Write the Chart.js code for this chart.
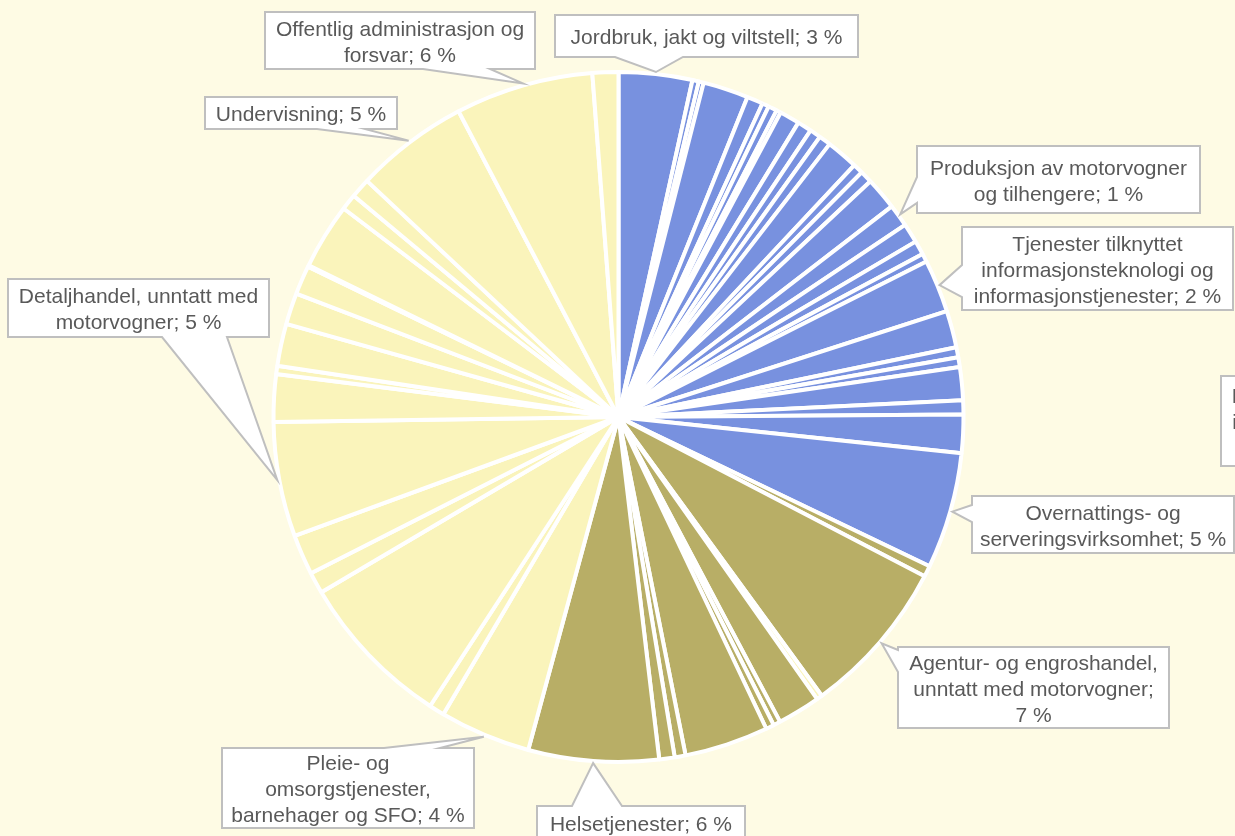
<!DOCTYPE html>
<html>
<head>
<meta charset="utf-8">
<script src="https://cdn.jsdelivr.net/npm/chart.js@4.4.1/dist/chart.umd.min.js"></script>
<style>
html,body{margin:0;padding:0;background:#FEFBE4;overflow:hidden;}
canvas{display:block;}
</style>
</head>
<body>
<canvas id="c" width="1235" height="836"></canvas>
<script>
// ---- data (shares in %, clockwise from 12 o'clock) ----
const categories = [
  "Jordbruk, jakt og viltstell","Næring 2","Næring 3","Næring 4","Næring 5","Næring 6","Næring 7","Næring 8",
  "Næring 9","Næring 10","Næring 11","Næring 12","Næring 13","Næring 14","Næring 15","Næring 16",
  "Produksjon av motorvogner og tilhengere","Næring 18","Næring 19","Næring 20",
  "Tjenester tilknyttet informasjonsteknologi og informasjonstjenester","Næring 22","Næring 23","Næring 24",
  "Næring 25","Næring 26","Drift og forvaltning av infrastruktur og bygg",
  "Overnattings- og serveringsvirksomhet","Næring 29","Agentur- og engroshandel, unntatt med motorvogner",
  "Næring 31","Næring 32","Næring 33","Næring 34","Næring 35","Næring 36","Næring 37",
  "Helsetjenester","Pleie- og omsorgstjenester, barnehager og SFO","Næring 40","Næring 41","Næring 42","Næring 43",
  "Detaljhandel, unntatt med motorvogner","Næring 45","Næring 46","Næring 47","Næring 48","Næring 49","Næring 50",
  "Næring 51","Næring 52","Næring 53","Undervisning","Offentlig administrasjon og forsvar","Næring 56"
];
const shares = [
  3.44,0.30,0.23,2.13,0.75,0.32,0.41,0.21,
  0.94,0.67,0.52,0.56,1.50,0.47,0.58,1.52,
  1.05,0.91,0.66,0.39,
  2.47,1.73,0.47,0.45,
  1.55,0.65,1.79,
  5.45,0.51,7.34,
  0.26,2.01,0.33,0.38,3.93,0.51,0.72,
  6.10,4.26,0.72,7.32,1.00,1.89,
  5.36,2.22,0.39,1.97,1.47,1.36,0.07,
  3.08,0.75,0.92,5.33,6.46,1.21
];
const groups = [
  "A","A","A","A","A","A","A","A",
  "A","A","A","A","A","A","A","A",
  "A","A","A","A",
  "A","A","A","A",
  "A","A","A",
  "A","B","B",
  "C","B","B","B","B","B","B",
  "B","C","C","C","C","C",
  "C","C","C","C","C","C","C",
  "C","C","C","C","C","C"
];

// ---- styles / layout ----
const groupColors = {A:"#7891DF", B:"#B8AE66", C:"#FAF4BB"};
const callouts = [
  {i:0,  box:[555,15,303,42],  side:"bottom", base:[615,683], lines:["Jordbruk, jakt og viltstell; {p} %"]},
  {i:16, box:[917,146,283,67], side:"left",   base:[177,203], lines:["Produksjon av motorvogner","og tilhengere; {p} %"]},
  {i:20, box:[962,227,271,83], side:"left",   base:[265,297], lines:["Tjenester tilknyttet","informasjonsteknologi og","informasjonstjenester; {p} %"]},
  {i:26, box:[1221,376,220,90], side:null,    base:null,      lines:["Drift og forvaltning av","infrastruktur og bygg;","{p} %"]},
  {i:27, box:[972,496,262,57], side:"left",   base:[505,522], lines:["Overnattings- og","serveringsvirksomhet; {p} %"]},
  {i:29, box:[898,647,271,81], side:"left",   base:[650,672], lines:["Agentur- og engroshandel,","unntatt med motorvogner;","{p} %"]},
  {i:37, box:[537,806,208,33], side:"top",    base:[572,622], lines:["Helsetjenester; {p} %"]},
  {i:38, box:[222,748,252,80], side:"top",    base:[384,440], lines:["Pleie- og","omsorgstjenester,","barnehager og SFO; {p} %"]},
  {i:43, box:[8,279,261,58],   side:"bottom", base:[162,227], lines:["Detaljhandel, unntatt med","motorvogner; {p} %"]},
  {i:53, box:[205,97,192,32],  side:"bottom", base:[317,365], lines:["Undervisning; {p} %"]},
  {i:54, box:[265,12,270,57],  side:"bottom", base:[423,490], lines:["Offentlig administrasjon og","forsvar; {p} %"]}
];

const calloutPlugin = {
  id: "callouts",
  afterDatasetsDraw(chart) {
    const ctx = chart.ctx;
    const meta = chart.getDatasetMeta(0);
    const data = chart.data.datasets[0].data;
    const total = data.reduce((a,b)=>a+b,0);
    ctx.save();
    ctx.font = '21px "Liberation Sans", Arial, sans-serif';
    callouts.forEach(c => {
      const arc = meta.data[c.i];
      const p = arc.getProps(["x","y","startAngle","endAngle","outerRadius"], true);
      const mid = (p.startAngle + p.endAngle) / 2;
      const tx = p.x + Math.cos(mid) * (p.outerRadius + 2);
      const ty = p.y + Math.sin(mid) * (p.outerRadius + 2);
      const [x,y,w,h] = c.box;
      ctx.beginPath();
      ctx.moveTo(x, y);
      if (c.side === "top") { ctx.lineTo(c.base[0], y); ctx.lineTo(tx, ty); ctx.lineTo(c.base[1], y); }
      ctx.lineTo(x + w, y);
      if (c.side === "right") { ctx.lineTo(x + w, c.base[0]); ctx.lineTo(tx, ty); ctx.lineTo(x + w, c.base[1]); }
      ctx.lineTo(x + w, y + h);
      if (c.side === "bottom") { ctx.lineTo(c.base[1], y + h); ctx.lineTo(tx, ty); ctx.lineTo(c.base[0], y + h); }
      ctx.lineTo(x, y + h);
      if (c.side === "left") { ctx.lineTo(x, c.base[1]); ctx.lineTo(tx, ty); ctx.lineTo(x, c.base[0]); }
      ctx.closePath();
      ctx.fillStyle = "#FFFFFF";
      ctx.fill();
      ctx.lineWidth = 2;
      ctx.strokeStyle = "#BFBFBF";
      ctx.lineJoin = "miter";
      ctx.stroke();
      const pct = Math.round(data[c.i] / total * 100);
      ctx.fillStyle = "#595959";
      ctx.textAlign = "center";
      ctx.textBaseline = "alphabetic";
      const n = c.lines.length, lh = 26;
      const cx = x + w / 2, cy = y + h / 2 + 8;
      c.lines.forEach((ln, k) => {
        ctx.fillText(ln.replace("{p}", pct), cx, cy + (k - (n - 1) / 2) * lh);
      });
    });
    ctx.restore();
  }
};

new Chart(document.getElementById("c"), {
  type: "pie",
  data: {
    labels: categories,
    datasets: [{
      data: shares,
      backgroundColor: groups.map(g => groupColors[g]),
      borderColor: "#FFFFFF",
      borderWidth: 4,
      radius: 345,
      hoverOffset: 0
    }]
  },
  options: {
    responsive: false,
    animation: false,
    devicePixelRatio: 1,
    layout: {padding: {left: 2, right: 0, top: 0, bottom: 2}},
    plugins: {legend: {display: false}, tooltip: {enabled: false}}
  },
  plugins: [calloutPlugin]
});
</script>
</body>
</html>
